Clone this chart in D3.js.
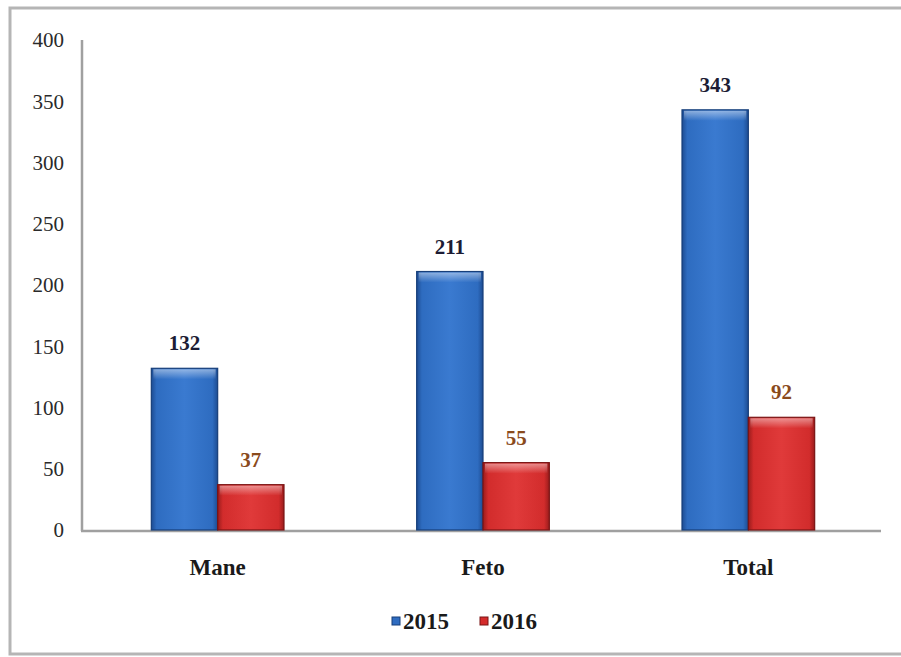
<!DOCTYPE html>
<html>
<head>
<meta charset="utf-8">
<script src="https://cdn.jsdelivr.net/npm/d3@7"></script>
<style>
  html, body { margin: 0; padding: 0; background: #fff; }
  svg { display: block; }
  svg text { font-family: "Liberation Serif", "Times New Roman", serif; }
</style>
</head>
<body>
<svg id="chart" width="901" height="657"></svg>
<script>
const categories = ["Mane", "Feto", "Total"];
const seriesNames = ["2015", "2016"];
const values2015 = [132, 211, 343];
const values2016 = [37, 55, 92];
const yTicks = [0, 50, 100, 150, 200, 250, 300, 350, 400];

const svg = d3.select("#chart");
const colors = { "2015": "#2f6cc0", "2016": "#d42b2b" };
const strokeColors = { "2015": "#173f7a", "2016": "#7a1414" };
const labelColors = { "2015": "#1c1c34", "2016": "#8a4a1c" };

// outer frame
svg.append("rect").attr("x", 10).attr("y", 8).attr("width", 900).attr("height", 646)
  .attr("fill", "#fff").attr("stroke", "#b5b5b5").attr("stroke-width", 3);

// gradients
const defs = svg.append("defs");
function grad(id, light, mid, dark) {
  const g = defs.append("linearGradient").attr("id", id).attr("x1", "0").attr("x2", "1").attr("y1", "0").attr("y2", "0");
  g.append("stop").attr("offset", "0%").attr("stop-color", dark);
  g.append("stop").attr("offset", "8%").attr("stop-color", mid);
  g.append("stop").attr("offset", "50%").attr("stop-color", light);
  g.append("stop").attr("offset", "92%").attr("stop-color", mid);
  g.append("stop").attr("offset", "100%").attr("stop-color", dark);
}
grad("g2015", "#3a7ad0", "#2e6cc0", "#1d4c92");
grad("g2016", "#e03a3a", "#d22c2c", "#9a1c1c");
const topG = defs.append("linearGradient").attr("id", "gtop").attr("x1", "0").attr("x2", "0").attr("y1", "0").attr("y2", "1");
topG.append("stop").attr("offset", "0%").attr("stop-color", "#fff").attr("stop-opacity", 0.45);
topG.append("stop").attr("offset", "100%").attr("stop-color", "#fff").attr("stop-opacity", 0);

const x0 = d3.scaleBand().domain(categories).range([85, 881]).paddingInner(0).paddingOuter(0);
const y = d3.scaleLinear().domain([0, 400]).range([530, 40]);
const barGroupW = x0.bandwidth() * 0.5;
const x1 = d3.scaleBand().domain(seriesNames).range([0, barGroupW]).padding(0);

// axes
svg.append("line").attr("x1", 82).attr("x2", 82).attr("y1", 40).attr("y2", 531)
  .attr("stroke", "#a0a0a0").attr("stroke-width", 2.5);
svg.append("line").attr("x1", 81).attr("x2", 881).attr("y1", 531).attr("y2", 531)
  .attr("stroke", "#a0a0a0").attr("stroke-width", 2.5);

// y tick labels
svg.append("g").selectAll("text").data(yTicks).join("text")
  .attr("x", 64).attr("y", d => y(d))
  .attr("dy", "0.35em")
  .attr("text-anchor", "end")
  .attr("font-size", 21)
  .attr("fill", "#2a2a2a")
  .text(d => d);

const data = categories.map((c, i) => ({ cat: c, vals: [
  { s: "2015", v: values2015[i] }, { s: "2016", v: values2016[i] }
]}));

const groups = svg.append("g").selectAll("g").data(data).join("g")
  .attr("transform", d => `translate(${x0(d.cat) + (x0.bandwidth() - barGroupW) / 2},0)`);

groups.selectAll("rect.bar").data(d => d.vals).join("rect")
  .attr("class", "bar")
  .attr("x", d => x1(d.s))
  .attr("y", d => y(d.v))
  .attr("width", x1.bandwidth())
  .attr("height", d => y(0) - y(d.v))
  .attr("fill", d => `url(#g${d.s})`)
  .attr("stroke", d => strokeColors[d.s])
  .attr("stroke-width", 1.2);

groups.selectAll("rect.hl").data(d => d.vals).join("rect")
  .attr("class", "hl")
  .attr("x", d => x1(d.s) + 2)
  .attr("y", d => y(d.v) + 1)
  .attr("width", x1.bandwidth() - 4)
  .attr("height", 10)
  .attr("fill", "url(#gtop)");

groups.selectAll("text.val").data(d => d.vals).join("text")
  .attr("class", "val")
  .attr("x", d => x1(d.s) + x1.bandwidth() / 2)
  .attr("y", d => y(d.v) - 18)
  .attr("text-anchor", "middle")
  .attr("font-weight", "bold")
  .attr("font-size", 21)
  .attr("fill", d => labelColors[d.s])
  .text(d => d.v);

// category labels
svg.append("g").selectAll("text").data(categories).join("text")
  .attr("x", d => x0(d) + x0.bandwidth() / 2)
  .attr("y", 575)
  .attr("text-anchor", "middle")
  .attr("font-weight", "bold")
  .attr("font-size", 23)
  .attr("fill", "#1a1a1a")
  .text(d => d);

// legend
const legend = svg.append("g");
const legendItems = [
  { s: "2015", x: 392 },
  { s: "2016", x: 480 }
];
const li = legend.selectAll("g").data(legendItems).join("g")
  .attr("transform", d => `translate(${d.x},621)`);
li.append("rect").attr("x", 0).attr("y", -4).attr("width", 8).attr("height", 8)
  .attr("fill", d => colors[d.s]).attr("stroke", d => strokeColors[d.s]).attr("stroke-width", 1);
li.append("text").attr("x", 11).attr("y", 0).attr("dy", "0.35em")
  .attr("font-weight", "bold")
  .attr("font-size", 23)
  .attr("fill", "#1a1a1a")
  .text(d => d.s);
</script>
</body>
</html>
